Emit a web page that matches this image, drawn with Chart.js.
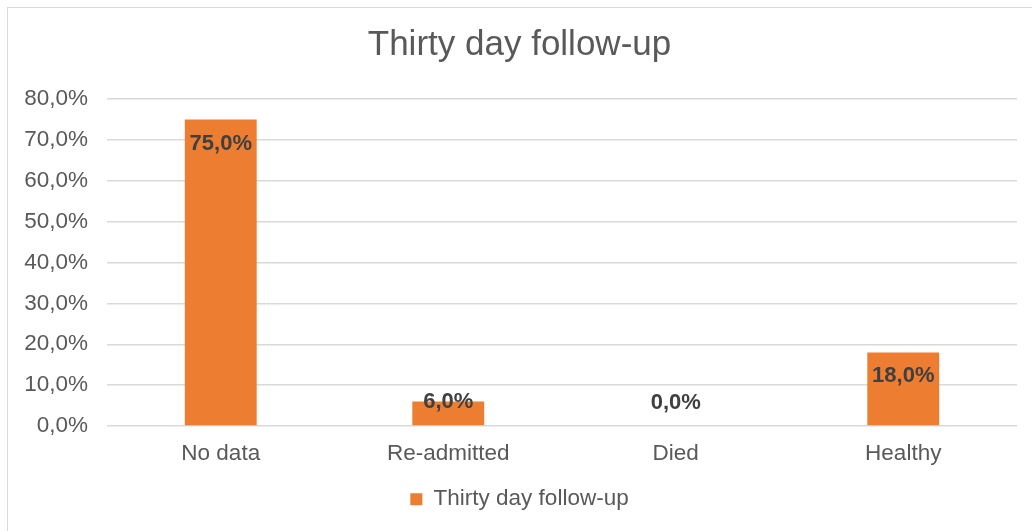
<!DOCTYPE html>
<html>
<head>
<meta charset="utf-8">
<script src="https://cdn.jsdelivr.net/npm/chart.js@4"></script>
<style>
  html, body { margin: 0; padding: 0; background: #fff; }
  #wrap { position: relative; width: 1032px; height: 531px; overflow: hidden; }
  #frame { position: absolute; left: 7px; top: 7px; width: 1100px; height: 600px; border: 1px solid #d9d9d9; box-sizing: border-box; }
  canvas { position: absolute; left: 0; top: 0; }
</style>
</head>
<body>
<div id="wrap">
  <div id="frame"></div>
  <canvas id="chart" width="1032" height="531"></canvas>
</div>
<script>
const categories = ["No data", "Re-admitted", "Died", "Healthy"];
const followUp = [75.0, 6.0, 0.0, 18.0];
const seriesName = "Thirty day follow-up";

const FONT = "'Liberation Sans', Arial, sans-serif";
const TXT = 22.5;
const pct = v => v.toFixed(1).replace(".", ",") + "%";

// value labels near the top of each bar, kept above the axis for short bars
const barLabels = {
  id: "barLabels",
  afterDatasetsDraw(chart) {
    const ctx = chart.ctx;
    const meta = chart.getDatasetMeta(0);
    ctx.save();
    ctx.font = "bold 22px " + FONT;
    ctx.fillStyle = "#404040";
    ctx.textAlign = "center";
    ctx.textBaseline = "middle";
    meta.data.forEach((bar, i) => {
      const y = Math.min(bar.y + 24, bar.base - 23);
      ctx.fillText(pct(followUp[i]), bar.x, y);
    });
    ctx.restore();
  }
};

new Chart(document.getElementById("chart"), {
  type: "bar",
  data: {
    labels: categories,
    datasets: [{
      label: seriesName,
      data: followUp,
      backgroundColor: "#ed7d31",
      barPercentage: 0.316,
      categoryPercentage: 1.0
    }]
  },
  options: {
    responsive: false,
    animation: false,
    layout: { padding: { left: 22, right: 15, top: 7, bottom: 10.5 } },
    plugins: {
      title: {
        display: true,
        text: seriesName,
        color: "#595959",
        font: { family: FONT, size: 35, weight: "normal" },
        padding: { top: 17.5, bottom: 32.5 }
      },
      legend: {
        position: "bottom",
        labels: {
          color: "#595959",
          font: { family: FONT, size: TXT },
          boxWidth: 12,
          boxHeight: 12,
          padding: 10
        }
      },
      tooltip: { enabled: false }
    },
    scales: {
      x: {
        afterFit: s => { s.height = 52; },
        grid: { display: false },
        border: { display: false },
        ticks: { color: "#595959", font: { family: FONT, size: TXT }, padding: 6 }
      },
      y: {
        min: 0,
        max: 80,
        afterFit: s => { s.width = 85; },
        grid: { color: "#d9d9d9", lineWidth: 1.5, drawTicks: false },
        border: { display: false },
        ticks: {
          stepSize: 10,
          color: "#595959",
          font: { family: FONT, size: TXT },
          padding: 19,
          callback: v => pct(v)
        }
      }
    }
  },
  plugins: [barLabels]
});
</script>
</body>
</html>
